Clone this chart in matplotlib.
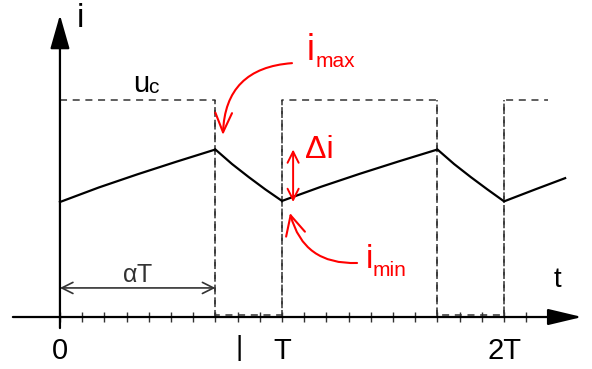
import numpy as np
import matplotlib
matplotlib.use('Agg')
import matplotlib.pyplot as plt

plt.rcParams['font.family'] = ['Liberation Sans', 'DejaVu Sans']

# time in units of T, current / voltage in arbitrary units
alpha = 0.7
cur_t = [0, 0.175, 0.35, 0.525, 0.7, 0.775, 0.85, 0.925, 1.0,
         1.175, 1.35, 1.525, 1.7, 1.775, 1.85, 1.925, 2.0, 2.14, 2.275]
cur_i = [0.530, 0.597, 0.658, 0.716, 0.772, 0.705, 0.645, 0.588, 0.535,
         0.600, 0.660, 0.717, 0.772, 0.705, 0.645, 0.588, 0.533, 0.588, 0.640]
uc_t = [0, 0.7, 0.7, 1.0, 1.0, 1.7, 1.7, 2.0, 2.0, 2.2]
uc_v = [1, 1, 0.008, 0.008, 1, 1, 0.008, 0.008, 1, 1]
tick_t = np.arange(0, 2.15, 0.1)
tick_labels = ['0', 'T', '2T']
tick_label_t = [0, 1.0, 2.0]
i_max = 0.772
i_min = 0.530

red = '#ff0000'
grey = '#333333'

fig = plt.figure(figsize=(5.92, 3.69), dpi=100)
ax = fig.add_axes([0, 0, 1, 1])
ax.set_xlim(-0.270, 2.396)
ax.set_ylim(-0.2396, 1.461)
ax.axis('off')

# axes with arrows
ax.annotate('', xy=(2.351, 0), xytext=(-0.212, 0),
            arrowprops=dict(arrowstyle='-|>,head_length=21,head_width=5', mutation_scale=1,
                            lw=1.6, color='k', shrinkA=0, shrinkB=0))
ax.annotate('', xy=(0, 1.392), xytext=(0, -0.051),
            arrowprops=dict(arrowstyle='-|>,head_length=21,head_width=6', mutation_scale=1,
                            lw=1.6, color='k', shrinkA=0, shrinkB=0))
ax.vlines(tick_t, -0.025, 0.025, color=grey, lw=1)

# control voltage (dashed)
ax.plot(uc_t, uc_v, color=grey, lw=1.1, ls=(0, (4.6, 3.7)))
ax.vlines([0.7, 1.0, 1.7, 2.0], 0, 1, color=grey, lw=1.1, ls=(0, (4.6, 3.7)))

# current
ax.plot(cur_t, cur_i, color='k', lw=1.6, solid_joinstyle='miter')

# labels
ax.text(0.090, 1.378, 'i', fontsize=24, ha='center', va='center')
ax.text(2.241, 0.170, 't', fontsize=20, ha='center', va='center')
ax.text(0.329, 1.037, 'u', fontsize=21, ha='left', va='baseline')
ax.annotate('c', xy=(0.329, 1.037), xytext=(11, -1), textcoords='offset points',
            fontsize=15, ha='left', va='baseline')
for lab, t in zip(tick_labels, tick_label_t):
    ax.text(t, -0.157, lab, fontsize=21, ha='center', va='center')
ax.text(0.806, -0.143, '|', fontsize=20, ha='center', va='center')

# alpha T
ax.annotate('', xy=(alpha, 0.134), xytext=(0, 0.134),
            arrowprops=dict(arrowstyle='<->,head_length=8,head_width=4', mutation_scale=1,
                            lw=1.2, color=grey, shrinkA=0, shrinkB=0))
ax.text(alpha / 2, 0.161, r'$\mathregular{\alpha}$T', fontsize=18, color=grey,
        ha='center', va='baseline')

# delta i
ax.annotate('', xy=(1.05, i_max), xytext=(1.05, i_min),
            arrowprops=dict(arrowstyle='<->,head_length=8,head_width=4', mutation_scale=1,
                            lw=1.4, color=red, shrinkA=0, shrinkB=0))
ax.text(1.104, 0.733, '\u0394i', fontsize=23, color=red, ha='left', va='baseline')

# i max
ax.annotate('', xy=(0.734, 0.839), xytext=(1.045, 1.17),
            arrowprops=dict(arrowstyle='->,head_length=14,head_width=6', mutation_scale=1,
                            lw=1.5, color=red, shrinkA=0, shrinkB=0,
                            connectionstyle='arc3,rad=0.45'))
ax.text(1.113, 1.184, 'i', fontsize=26, color=red, ha='left', va='baseline')
ax.annotate('max', xy=(1.113, 1.184), xytext=(6, -5), textcoords='offset points',
            fontsize=15, color=red, ha='left', va='baseline', fontstretch='condensed')

# i min
ax.annotate('', xy=(1.036, 0.479), xytext=(1.338, 0.249),
            arrowprops=dict(arrowstyle='->,head_length=14,head_width=7', mutation_scale=1,
                            lw=1.5, color=red, shrinkA=0, shrinkB=0,
                            connectionstyle='arc3,rad=-0.4'))
ax.text(1.378, 0.226, 'i', fontsize=24, color=red, ha='left', va='baseline')
ax.annotate('min', xy=(1.378, 0.226), xytext=(5, -6), textcoords='offset points',
            fontsize=15, color=red, ha='left', va='baseline')

fig.savefig('out.png', dpi=100)
